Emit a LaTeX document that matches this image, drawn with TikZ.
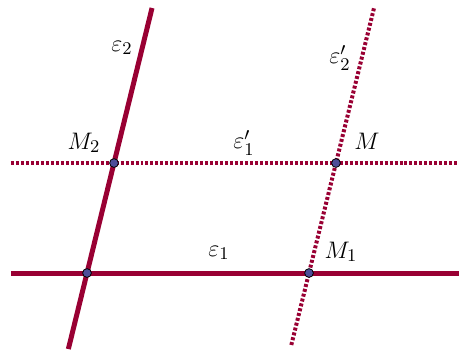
\documentclass[tikz,border=0pt]{standalone}
\definecolor{linered}{RGB}{153,0,51}
\definecolor{pointblue}{RGB}{77,77,153}
\usepackage{amsmath}
\usepackage{amssymb}
\usetikzlibrary{positioning}

\tikzset{
    solidline/.style={line width=2.5pt, linered},
    dotline/.style={line width=2pt, linered, dash pattern=on 1.5pt off 1pt},
    pt/.style={circle, fill=pointblue, draw=black, line width=0.4pt, inner sep=0pt, minimum size=4.4pt},
    lbl/.style={font=\fontsize{12.5}{15}\selectfont}
}

\begin{document}
\begin{tikzpicture}
    \useasboundingbox (-1.535,-1.341) rectangle (6.562,4.816);

    % end points of the lines
    \coordinate (e1L) at (-1.341,0);
    \coordinate (e1R) at (6.562,0);
    \coordinate (f1L) at (-1.341,1.940);
    \coordinate (f1R) at (6.562,1.940);
    \coordinate (e2B) at (-0.329,-1.341);
    \coordinate (e2T) at (1.147,4.675);
    \coordinate (f2B) at (3.604,-1.270);
    \coordinate (f2T) at (5.063,4.675);

    \draw[solidline] (e1L) -- (e1R);
    \draw[dotline] (f1L) -- (f1R);
    \draw[solidline] (e2B) -- (e2T);
    \draw[dotline] (f2B) -- (f2T);

    % points
    \node[pt] (O) at (0,0) {};
    \node[pt] (M1) at (3.916,0) {};
    \node[pt] (M2) at (0.476,1.940) {};
    \node[pt] (M) at (4.392,1.940) {};

    % labels
    \node[lbl] (lM2) at (-0.053,2.293) {$M_2$};
    \node[lbl] (lM) at (4.939,2.328) {$M$};
    \node[lbl] (lM1) at (4.480,0.370) {$M_1$};
    \node[lbl] (le1) at (2.328,0.353) {$\varepsilon_1$};
    \node[lbl] (lf1) at (2.769,2.293) {$\varepsilon_1'$};
    \node[lbl] (le2) at (0.617,3.969) {$\varepsilon_2$};
    \node[lbl] (lf2) at (4.463,3.793) {$\varepsilon_2'$};
\end{tikzpicture}
\end{document}
